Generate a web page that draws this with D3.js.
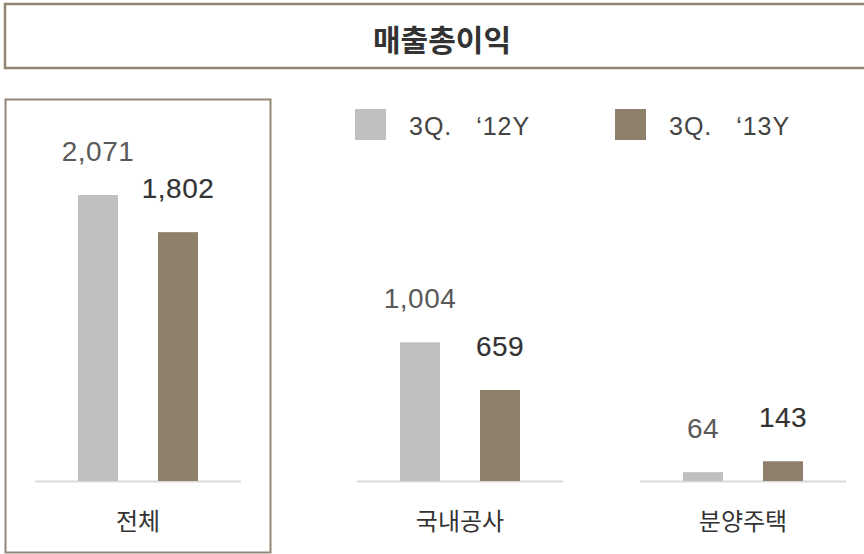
<!DOCTYPE html>
<html>
<head>
<meta charset="utf-8">
<script src="https://cdn.jsdelivr.net/npm/d3@7"></script>
<style>
  body { margin: 0; background: #fff; }
  text { font-family: "Liberation Sans", Arial, sans-serif; }
  .kr { font-family: "Noto Sans CJK KR", sans-serif; }
</style>
</head>
<body>
<svg id="chart"></svg>
<script>
var title = "매출총이익";
var categories = ["전체", "국내공사", "분양주택"];
var seriesNames = ["3Q.   \u201812Y", "3Q.   \u201813Y"];
var values2012 = [2071, 1004, 64];
var values2013 = [1802, 659, 143];

var width = 864, height = 554;
var colors = ["#bfbfbf", "#8f806b"];
var boxColor = "#938672";

var svg = d3.select("#chart")
    .attr("width", width)
    .attr("height", height);

// title box
svg.append("rect")
    .attr("x", 5).attr("y", 4)
    .attr("width", 870).attr("height", 64)
    .attr("fill", "none")
    .attr("stroke", boxColor)
    .attr("stroke-width", 2.5);
svg.append("text")
    .attr("class", "kr")
    .attr("x", 442).attr("y", 51)
    .attr("text-anchor", "middle")
    .attr("font-size", 30)
    .attr("font-weight", "bold")
    .attr("fill", "#333")
    .text(title);

// box around the first group
svg.append("rect")
    .attr("x", 5.5).attr("y", 99.5)
    .attr("width", 265).attr("height", 453)
    .attr("fill", "none")
    .attr("stroke", boxColor)
    .attr("stroke-width", 2);

var data = categories.map(function(c, i) {
  return {cat: c, vals: [values2012[i], values2013[i]]};
});

var baseY = 481;
var y = d3.scaleLinear().domain([0, 2100]).range([baseY, baseY - 290]);
var groupX = d3.scaleOrdinal().domain(categories).range([138, 460, 743]);
var inner = d3.scaleBand().domain([0, 1]).range([-60, 60]).paddingInner(0.5);

var groups = svg.selectAll("g.grp")
  .data(data)
  .join("g")
    .attr("class", "grp")
    .attr("transform", d => "translate(" + groupX(d.cat) + ",0)");

groups.append("line")
    .attr("x1", -103).attr("x2", 103)
    .attr("y1", baseY + 0.5).attr("y2", baseY + 0.5)
    .attr("stroke", "#d9d9d9")
    .attr("stroke-width", 2);

groups.selectAll("rect")
  .data(d => d.vals)
  .join("rect")
    .attr("x", (d, i) => inner(i))
    .attr("width", inner.bandwidth())
    .attr("y", d => y(d))
    .attr("height", d => baseY - y(d))
    .attr("fill", (d, i) => colors[i]);

groups.selectAll("text.val")
  .data(d => d.vals)
  .join("text")
    .attr("class", "val")
    .attr("x", (d, i) => inner(i) + inner.bandwidth() / 2)
    .attr("y", d => y(d) - 34)
    .attr("text-anchor", "middle")
    .attr("font-size", 28)
    .attr("letter-spacing", 0.5)
    .attr("fill", (d, i) => i === 0 ? "#5a5a5a" : "#333")
    .attr("stroke", (d, i) => i === 0 ? "none" : "#333")
    .attr("stroke-width", 0.15)
    .text(d => d3.format(",")(d));

groups.append("text")
    .attr("class", "kr")
    .attr("y", 530)
    .attr("text-anchor", "middle")
    .attr("font-size", 24)
    .attr("fill", "#333")
    .text(d => d.cat);

// legend
var legendX = d3.scaleOrdinal().domain([0, 1]).range([355, 615]);
var legend = svg.selectAll("g.leg")
  .data(seriesNames)
  .join("g")
    .attr("class", "leg")
    .attr("transform", (d, i) => "translate(" + legendX(i) + ",109)");
legend.append("rect")
    .attr("width", 31).attr("height", 31)
    .attr("fill", (d, i) => colors[i]);
legend.append("text")
    .attr("x", 54).attr("y", 26)
    .attr("font-size", 25)
    .attr("letter-spacing", 1)
    .attr("fill", "#444")
    .attr("xml:space", "preserve")
    .style("white-space", "pre")
    .text(d => d);
</script>
</body>
</html>
